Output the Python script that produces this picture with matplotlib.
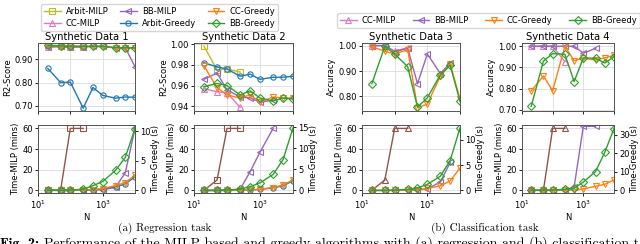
import numpy as np
import matplotlib
matplotlib.use('Agg')
import matplotlib.pyplot as plt
from matplotlib.lines import Line2D

# sample sizes
N = [20, 50, 100, 250, 500, 1000, 2500, 5000, 10000]

# --- scores (top row) ---
# Synthetic Data 1 (R2)
d1_arbit_milp = [0.962, 0.958, 0.957, 0.955]
d1_cc_milp = [0.952, 0.955, 0.951, 0.954]
d1_bb_milp = [0.953, 0.955, 0.952, 0.954, 0.955, 0.955, 0.950, 0.950, 0.868]
d1_arbit_greedy = [0.861, 0.800, 0.802, 0.690, 0.779, 0.745, 0.733, 0.738, 0.737]
d1_cc_greedy = [0.958, 0.956, 0.955, 0.955, 0.955, 0.955, 0.949, 0.949, 0.948]
d1_bb_greedy = [0.960, 0.957, 0.956, 0.956, 0.956, 0.956, 0.950, 0.950, 0.949]

# Synthetic Data 2 (R2)
d2_arbit_milp = [0.998, 0.975, 0.976, 0.973]
d2_cc_milp = [0.957, 0.954, 0.953, 0.939]
d2_bb_milp = [0.966, 0.972, 0.956, 0.949, 0.948, 0.944, 0.946]
d2_arbit_greedy = [0.982, 0.978, 0.976, 0.969, 0.971, 0.966, 0.968, 0.968, 0.969]
d2_cc_greedy = [0.979, 0.958, 0.951, 0.948, 0.951, 0.944, 0.949, 0.948, 0.948]
d2_bb_greedy = [0.959, 0.962, 0.960, 0.951, 0.955, 0.948, 0.945, 0.948, 0.947]

# Synthetic Data 3 (accuracy)
d3_cc_milp = [1.0, 1.0, 0.978, 0.991]
d3_bb_milp = [1.0, 1.0, 0.975, 0.99, 0.85, 0.967, 0.89, 0.932]
d3_cc_greedy = [0.995, 0.978, 0.967, 0.984, 0.756, 0.77, 0.88, 0.928, 0.79]
d3_bb_greedy = [0.85, 0.997, 0.967, 0.917, 0.758, 0.795, 0.885, 0.922, 0.782]

# Synthetic Data 4 (accuracy)
d4_cc_milp = [1.0, 1.0, 1.0, 0.927]
d4_bb_milp = [1.0, 1.0, 1.0, 1.0, 1.0, 0.967, 0.99]
d4_cc_greedy = [0.79, 0.86, 0.79, 1.0, 0.932, 0.943, 0.935, 0.945, 0.957]
d4_bb_greedy = [0.717, 0.93, 0.965, 0.962, 0.833, 0.945, 0.943, 0.921, 0.95]

# --- run times (bottom row) ---
t1_milp = [0, 0, 60, 60]
t1_bb_milp = [0, 0, 0, 0, 0.2, 0.5, 3, 17, 60]
t1_arbit_greedy = [0, 0, 0, 0.05, 0.1, 0.25, 0.6, 1.1, 2.3]
t1_cc_greedy = [0, 0, 0, 0.05, 0.1, 0.3, 0.8, 1.3, 2.6]
t1_bb_greedy = [0, 0, 0.05, 0.2, 0.8, 1.5, 3.4, 5.6, 10.5]

t2_milp = [0, 10, 60, 60]
t2_bb_milp = [0, 0, 0.3, 1, 18, 37, 60]
t2_arbit_greedy = [0, 0, 0, 0.05, 0.1, 0.25, 0.6, 1.1, 2.3]
t2_cc_greedy = [0, 0, 0, 0.05, 0.1, 0.3, 0.7, 1.3, 2.5]
t2_bb_greedy = [0, 0, 0.1, 0.3, 0.9, 1.8, 3.8, 7.3, 14.8]

t3_milp = [0, 10, 60, 60]
t3_bb_milp = [0, 0, 0, 0.2, 0.5, 1.5, 8, 27]
t3_cc_greedy = [0, 0, 0, 0.05, 0.1, 0.4, 0.9, 1.9, 4.4]
t3_bb_greedy = [0, 0, 0.05, 0.2, 0.5, 1.2, 2.8, 5.9, 12.3]

t4_milp = [0, 0, 60, 60]
t4_bb_milp = [0, 0, 0, 0.5, 3, 62, 62]
t4_cc_greedy = [0, 0, 0.1, 0.1, 0.3, 0.8, 2.2, 3.3, 5.7]
t4_bb_greedy = [0, 0.1, 0.2, 0.6, 1.2, 4.5, 10.2, 20.6, 33.5]

C = {'Arbit-MILP': '#bcbd22', 'CC-MILP': '#e377c2', 'BB-MILP': '#9467bd',
     'Arbit-Greedy': '#1f77b4', 'CC-Greedy': '#ff7f0e', 'BB-Greedy': '#2ca02c'}
M = {'Arbit-MILP': 's', 'CC-MILP': '^', 'BB-MILP': '<',
     'Arbit-Greedy': 'o', 'CC-Greedy': 'v', 'BB-Greedy': 'D'}
BROWN = '#8c564b'
FS = 6.0
MS = 3.8

W, H = 640, 244
fig = plt.figure(figsize=(W / 100, H / 100), dpi=100)


def px_axes(l, t, r, b):
    return fig.add_axes([l / W, 1 - b / H, (r - l) / W, (b - t) / H])


def style(ax):
    ax.set_xscale('log')
    ax.set_xlim(10, 10000)
    ax.minorticks_off()
    ax.grid(True, color='#dddddd', lw=0.6)
    ax.set_axisbelow(True)
    ax.tick_params(labelsize=FS, length=2.5, width=0.6, pad=1.2)
    for s in ax.spines.values():
        s.set_color('#555555')
        s.set_linewidth(0.7)


def line(ax, y, name, color=None, marker=None):
    ax.plot(N[:len(y)], y, color=color or C[name], marker=marker or M[name],
            fillstyle='none', ms=MS, lw=1.0, mew=0.8, label=name)


cols = [(38, 135), (194, 293), (362, 460), (522, 614)]
top_rows = (43, 111)
bot_rows = (125, 193)

scores = [
    [('Arbit-MILP', d1_arbit_milp), ('CC-MILP', d1_cc_milp), ('BB-MILP', d1_bb_milp),
     ('Arbit-Greedy', d1_arbit_greedy), ('CC-Greedy', d1_cc_greedy), ('BB-Greedy', d1_bb_greedy)],
    [('Arbit-MILP', d2_arbit_milp), ('CC-MILP', d2_cc_milp), ('BB-MILP', d2_bb_milp),
     ('Arbit-Greedy', d2_arbit_greedy), ('CC-Greedy', d2_cc_greedy), ('BB-Greedy', d2_bb_greedy)],
    [('CC-MILP', d3_cc_milp), ('BB-MILP', d3_bb_milp),
     ('CC-Greedy', d3_cc_greedy), ('BB-Greedy', d3_bb_greedy)],
    [('CC-MILP', d4_cc_milp), ('BB-MILP', d4_bb_milp),
     ('CC-Greedy', d4_cc_greedy), ('BB-Greedy', d4_bb_greedy)],
]
ylims = [(0.678, 0.970), (0.9355, 1.001), (0.743, 1.01), (0.695, 1.015)]
yticks = [[0.70, 0.80, 0.90], [0.94, 0.96, 0.98, 1.00], [0.80, 0.90, 1.00],
          [0.70, 0.80, 0.90, 1.00]]
ylabels = ['R2-Score', 'R2-Score', 'Accuracy', 'Accuracy']

times = [
    (t1_milp, 's', t1_bb_milp,
     [('Arbit-Greedy', t1_arbit_greedy), ('CC-Greedy', t1_cc_greedy), ('BB-Greedy', t1_bb_greedy)]),
    (t2_milp, 's', t2_bb_milp,
     [('Arbit-Greedy', t2_arbit_greedy), ('CC-Greedy', t2_cc_greedy), ('BB-Greedy', t2_bb_greedy)]),
    (t3_milp, '^', t3_bb_milp,
     [('CC-Greedy', t3_cc_greedy), ('BB-Greedy', t3_bb_greedy)]),
    (t4_milp, '^', t4_bb_milp,
     [('CC-Greedy', t4_cc_greedy), ('BB-Greedy', t4_bb_greedy)]),
]
rlims = [(-0.45, 11.1), (-0.6, 15.5), (-0.5, 12.9), (-1.4, 35.4)]
rticks = [[0, 5, 10], [0, 5, 10, 15], [0, 5, 10], [0, 10, 20, 30]]

for i, (l, r) in enumerate(cols):
    ax = px_axes(l, top_rows[0], r, top_rows[1])
    style(ax)
    for name, y in scores[i]:
        line(ax, y, name)
    ax.set_ylim(*ylims[i])
    ax.set_yticks(yticks[i])
    ax.set_yticklabels(['%.2f' % v for v in yticks[i]])
    ax.set_xticks([10, 100, 1000, 10000])
    ax.set_xticklabels([])
    ax.set_ylabel(ylabels[i], fontsize=FS, labelpad=1.5)
    ax.set_title('Synthetic Data %d' % (i + 1), fontsize=7.2, pad=2)

    bx = px_axes(l, bot_rows[0], r, bot_rows[1])
    style(bx)
    milp, mk, bb, greedy = times[i]
    line(bx, milp, 'MILP', color=BROWN, marker=mk)
    line(bx, bb, 'BB-MILP')
    bx.set_ylim(-2.6, 63.3)
    bx.set_yticks([0, 20, 40, 60])
    bx.set_xticks([10, 100, 1000, 10000])
    bx.set_ylabel('Time-MILP (mins)', fontsize=FS, labelpad=1.5)
    bx.set_xlabel('N', fontsize=FS, labelpad=1.5)
    rx = bx.twinx()
    style(rx)
    rx.grid(False)
    for name, y in greedy:
        line(rx, y, name)
    rx.set_ylim(*rlims[i])
    rx.set_yticks(rticks[i])
    rx.set_ylabel('Time-Greedy (s)', fontsize=FS)
    rx.yaxis.set_label_coords(1 + 16 / (r - l), 0.5)

# legends
def handle(name):
    return Line2D([], [], color=C[name], marker=M[name], fillstyle='none',
                  ms=MS, lw=1.0, mew=0.8)

left_names = ['Arbit-MILP', 'CC-MILP', 'BB-MILP', 'Arbit-Greedy', 'CC-Greedy', 'BB-Greedy']
fig.legend([handle(n) for n in left_names], left_names, ncol=3, fontsize=FS,
           loc='upper left', bbox_to_anchor=(37 / W, 1.0), columnspacing=1.4,
           handletextpad=0.6, borderpad=0.35, labelspacing=0.3, framealpha=0.8,
           edgecolor='#cccccc')
right_names = ['CC-MILP', 'BB-MILP', 'CC-Greedy', 'BB-Greedy']
fig.legend([handle(n) for n in right_names], right_names, ncol=4, fontsize=FS,
           loc='upper left', bbox_to_anchor=(333 / W, 1 - 9 / H), columnspacing=2.0,
           handletextpad=0.6, borderpad=0.35, framealpha=0.8, edgecolor='#cccccc')

# captions
fig.text(165 / W, 1 - 228 / H, '(a) Regression task', fontsize=8,
         family='cmr10', ha='center', va='center')
fig.text(485 / W, 1 - 228 / H, '(b) Classification task', fontsize=8,
         family='cmr10', ha='center', va='center')
fig.text(0.0, -0.012, 'Fig. 2:', fontsize=10, family='cmb10', ha='left', va='baseline')
fig.text(44 / W, -0.012,
         'Performance of the MILP-based and greedy algorithms with (a) regression and (b) classification tasks.',
         fontsize=10, family='cmr10', ha='left', va='baseline')

fig.savefig('out.png', dpi=100)
